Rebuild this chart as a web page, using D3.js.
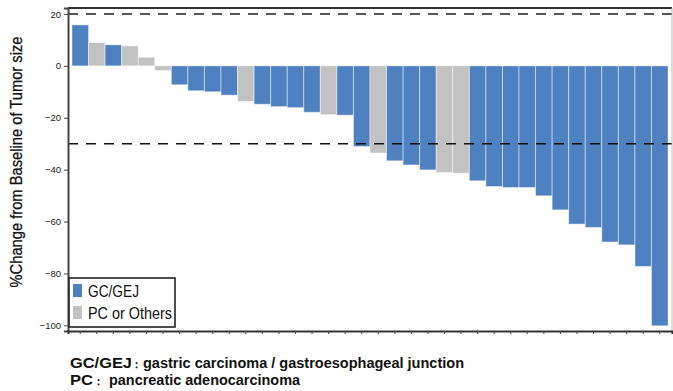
<!DOCTYPE html>
<html><head><meta charset="utf-8">
<script src="https://cdnjs.cloudflare.com/ajax/libs/d3/7.8.5/d3.min.js"></script>
<style>
html,body{margin:0;padding:0;background:#fff;}
svg{display:block;}
</style></head>
<body>
<script>
// ---- data ----
const patients = d3.range(1, 37).map(String);
const changes = [15.8, 9.0, 8.1, 7.7, 3.3, -1.8, -7.3, -9.6, -10.0, -11.3, -13.7, -14.8, -15.7, -16.1, -17.9, -18.8, -19.0, -31.1, -33.6, -36.6, -38.2, -40.1, -41.1, -41.4, -44.3, -46.5, -46.9, -46.9, -50.1, -55.5, -61.0, -62.3, -67.9, -69.0, -77.3, -100.2];
const groups = ["GC","PC","GC","PC","PC","PC","GC","GC","GC","GC","PC","GC","GC","GC","GC","PC","GC","GC","PC","GC","GC","GC","PC","PC","GC","GC","GC","GC","GC","GC","GC","GC","GC","GC","GC","GC"];
const yTicks = [20, 0, -20, -40, -60, -80, -100];
const refLines = [20, -30];
const legendLabels = ["GC/GEJ", "PC or Others"];
const legendKeys = ["GC", "PC"];
const footLabels = ["GC/GEJ", "PC"];
const footTexts = ["gastric carcinoma / gastroesophageal junction", "pancreatic adenocarcinoma"];

const W = 673, H = 391;
const m = {left: 68, right: 1, top: 8, bottom: 60};
const color = d3.scaleOrdinal().domain(legendKeys).range(["#4f81c0", "#c2c2c2"]);
const narrow = "'Liberation Sans Narrow','Arial Narrow','Liberation Sans',Arial,sans-serif";

const svg = d3.select("body").append("svg").attr("width", W).attr("height", H);

const x = d3.scaleBand().domain(patients).range([m.left, W - m.right]).paddingInner(0).paddingOuter(0.24);
const y = d3.scaleLinear().domain([-102.2, 22.3]).range([H - m.bottom, m.top]);

// bars
svg.append("g").selectAll("rect").data(changes).join("rect")
  .attr("x", (d, i) => x(patients[i]))
  .attr("width", x.bandwidth())
  .attr("y", d => y(Math.max(0, d)))
  .attr("height", d => Math.abs(y(d) - y(0)))
  .attr("fill", (d, i) => color(groups[i]))
  .attr("stroke", "rgba(255,255,255,0.45)")
  .attr("stroke-width", 1);

// reference lines
svg.append("g").selectAll("line").data(refLines).join("line")
  .attr("x1", m.left).attr("x2", W - m.right)
  .attr("y1", d => y(d)).attr("y2", d => y(d))
  .attr("stroke", (d, i) => i === 0 ? "#555" : "#111")
  .attr("stroke-width", (d, i) => i === 0 ? 2 : 1.6)
  .attr("stroke-dasharray", "10,8");

// frame top and right
svg.append("line").attr("x1", m.left).attr("x2", W - m.right).attr("y1", m.top).attr("y2", m.top)
  .attr("stroke", "#333").attr("stroke-width", 2);
svg.append("line").attr("x1", W - m.right).attr("x2", W - m.right).attr("y1", m.top).attr("y2", H - m.bottom)
  .attr("stroke", "#bbb").attr("stroke-width", 1);

// y axis
const yAxis = svg.append("g").attr("transform", `translate(${m.left},0)`)
  .call(d3.axisLeft(y).tickValues(yTicks).tickSize(4).tickPadding(3).tickFormat(d3.format("d")));
yAxis.select(".domain").attr("stroke", "#444").attr("stroke-width", 2);
yAxis.selectAll(".tick line").attr("stroke", "#444");
yAxis.selectAll("text").attr("font-family", narrow)
  .attr("font-size", 9.5).attr("fill", "#222");

// x axis
const xAxis = svg.append("g").attr("transform", `translate(0,${H - m.bottom})`)
  .call(d3.axisBottom(x).tickSize(3).tickFormat(""));
xAxis.select(".domain").attr("stroke", "#333").attr("stroke-width", 2);
xAxis.selectAll(".tick line").attr("stroke", "#444");

// y title
svg.append("text")
  .attr("transform", `translate(22,162) rotate(-90)`)
  .attr("text-anchor", "middle")
  .attr("font-family", narrow)
  .attr("font-size", 16.5).attr("fill", "#111")
  .attr("stroke", "#111").attr("stroke-width", 0.3)
  .attr("textLength", 251).attr("lengthAdjust", "spacingAndGlyphs")
  .text("%Change from Baseline of Tumor size");

// legend
const lg = svg.append("g");
lg.append("rect").attr("x", m.left + 1).attr("y", 278).attr("width", 106).attr("height", 49)
  .attr("fill", "#fff").attr("stroke", "#222").attr("stroke-width", 1.6);
const legendWidths = [51, 84];
const li = lg.selectAll("g.item").data(legendKeys).join("g").attr("class", "item")
  .attr("transform", (d, i) => `translate(73,${284 + i * 22})`);
li.append("rect").attr("width", 9).attr("height", 13).attr("fill", d => color(d));
li.append("text").attr("x", 15).attr("y", 12.5)
  .attr("font-family", narrow)
  .attr("font-size", 17).attr("fill", "#111")
  .attr("textLength", (d, i) => legendWidths[i]).attr("lengthAdjust", "spacingAndGlyphs")
  .text((d, i) => legendLabels[i]);

// footnotes
const labelW = [62, 23], colonX = [131, 93], descX = [143, 109], descW = [321, 191];
const fn = svg.append("g").selectAll("text").data(footLabels).join("text")
  .attr("y", (d, i) => 368 + i * 17)
  .attr("font-family", "'Liberation Sans',Arial,sans-serif")
  .attr("font-weight", "bold").attr("font-size", 14).attr("fill", "#111");
fn.append("tspan").attr("x", 70).attr("textLength", (d, i) => labelW[i])
  .attr("lengthAdjust", "spacingAndGlyphs").text(d => d);
fn.append("tspan").attr("x", (d, i) => colonX[i]).attr("font-size", 11).text("\uFF1A");
fn.append("tspan").attr("x", (d, i) => descX[i]).attr("textLength", (d, i) => descW[i])
  .attr("lengthAdjust", "spacingAndGlyphs").text((d, i) => footTexts[i]);
</script>
</body></html>
